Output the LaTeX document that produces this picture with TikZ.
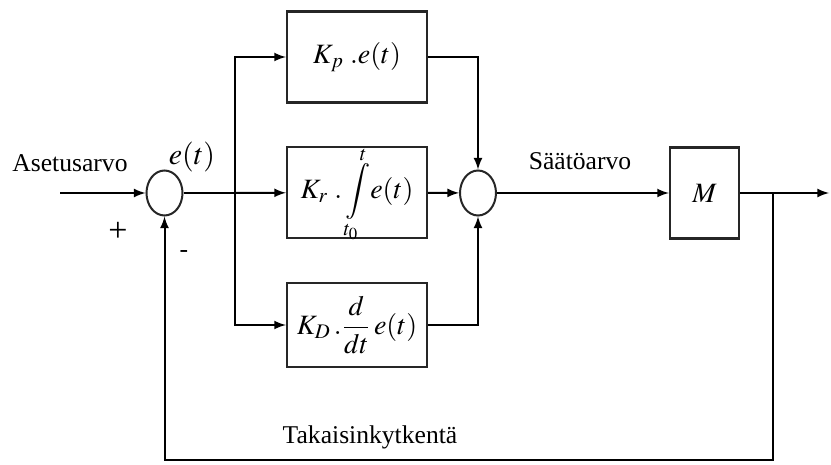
\documentclass[tikz,border=0pt]{standalone}
\usepackage{amsmath}
\usepackage{mathptmx}
\usepackage{fontspec}
\setmainfont{Liberation Serif}
\usetikzlibrary{arrows}
\usetikzlibrary{shapes.geometric}
\tikzset{block/.style={draw=black!85, line width=1.1pt, minimum width=70pt, minimum height=45.5pt, inner sep=0pt, font=\fontsize{14}{17}\selectfont}}
\tikzset{summer/.style={draw=black!85, ellipse, line width=1pt, minimum width=18pt, minimum height=22.5pt, inner sep=0pt}}
\tikzset{lbl/.style={font=\fontsize{12.8}{15}\selectfont, inner sep=0pt}}
\newcommand{\limlow}[1]{\raisebox{3pt}{$\scriptstyle #1$}}
\newcommand{\limup}[1]{\raisebox{-4pt}{$\scriptstyle #1$}}

\begin{document}
\begin{tikzpicture}[x=0.5pt, y=-0.5pt, >=latex, line width=1pt]
	\useasboundingbox (0,0) rectangle (831,465);
	\node[summer] (s1) at (164.5,193) {};
	\node[summer] (s2) at (478,193) {};
	\node[block] (kp) at (357,57) {$K_p\;.e(t)$};
	\node[block, text height=9pt, text depth=3pt] (ki) at (357,192.5) {$K_r\;.\displaystyle\int\limits_{\limlow{\!t_0}}^{\limup{t}}\! e(t)$};
	\node[block, minimum height=42pt] (kd) at (357,325) {$K_D\,.\dfrac{d}{dt}\,e(t)$};
	\node[block, minimum width=34.5pt] (m) at (704.5,193) {$M$};
	\coordinate (in) at (60,193);
	\coordinate (split) at (235,193);
	\coordinate (tap) at (773,193);
	\coordinate (out) at (829,193);
	\coordinate (fb) at (773,460);
	% forward path
	\draw[->] (in) -- (s1);
	\draw (s1) -- (split);
	\draw[->] (split) -- (ki);
	\draw[->] (split) |- (kp.west);
	\draw[->] (split) |- (kd.west);
	\draw[->] (kp.east) -| (s2.north);
	\draw[->] (ki) -- (s2);
	\draw[->] (kd.east) -| (s2.south);
	\draw[->] (s2) -- (m);
	\draw[->] (m) -- (out);
	% feedback
	\draw[->] (tap) -- (fb) -| (s1.south);
	% labels
	\node[lbl] (setpoint) at (70,163) {Asetusarvo};
	\node[lbl, font=\fontsize{15}{17}\selectfont] (err) at (192,157) {$e(t)$};
	\node[lbl, font=\fontsize{17}{19}\selectfont] (plus) at (118,232) {+};
	\node[lbl] (minus) at (184,254) {-};
	\node[lbl] (ctrl) at (580,161) {Säätöarvo};
	\node[lbl] (fbtext) at (370,437) {Takaisinkytkentä};
\end{tikzpicture}
\end{document}
